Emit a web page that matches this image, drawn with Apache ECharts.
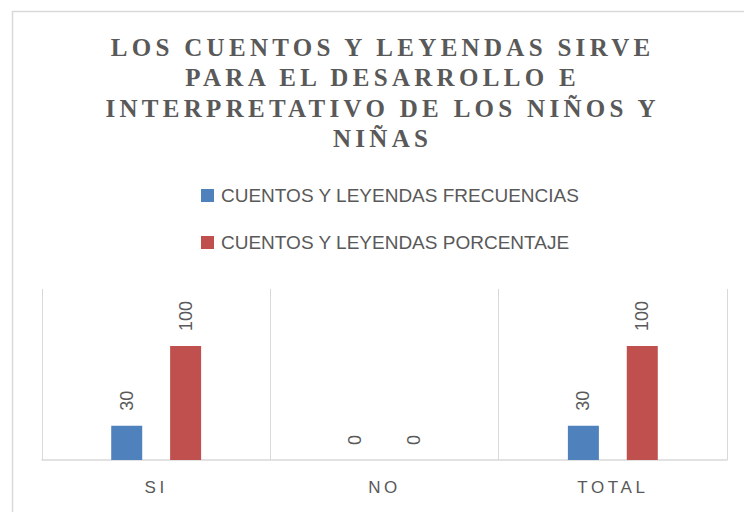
<!DOCTYPE html>
<html>
<head>
<meta charset="utf-8">
<script src="https://cdn.jsdelivr.net/npm/echarts@6/dist/echarts.min.js"></script>
<style>
  html, body { margin: 0; padding: 0; background: #fff; }
  #main { width: 744px; height: 512px; }
  /* spaced caps like the original: title and category labels */
  #main text[style*="Liberation Serif"] { letter-spacing: 4.3px; }
  #main text[style*="Arial"] { letter-spacing: 3.6px; }
</style>
</head>
<body>
<div id="main"></div>
<script>
  var titleText = 'LOS CUENTOS Y LEYENDAS SIRVE\nPARA EL DESARROLLO E\nINTERPRETATIVO DE LOS NIÑOS Y\nNIÑAS';

  var categories = ['SI', 'NO', 'TOTAL'];
  var seriesNames = ['CUENTOS Y LEYENDAS FRECUENCIAS', 'CUENTOS Y LEYENDAS PORCENTAJE'];
  var frecuencias = [30, 0, 30];
  var porcentaje = [100, 0, 100];

  var grayText = '#595959';
  var gridGray = '#d9d9d9';

  var chart = echarts.init(document.getElementById('main'), null, { renderer: 'svg' });

  var dataLabel = {
    show: true,
    position: 'top',
    distance: 15,
    rotate: 90,
    align: 'left',
    verticalAlign: 'middle',
    color: grayText,
    fontSize: 18,
    fontFamily: 'Liberation Sans'
  };

  var option = {
    animation: false,
    backgroundColor: '#fff',
    graphic: [{
      type: 'rect',
      shape: { x: 12.5, y: 11.5, width: 800, height: 600 },
      style: { fill: 'none', stroke: gridGray, lineWidth: 1.5 },
      silent: true
    }],
    title: {
      text: titleText,
      left: 382.6,
      top: 32,
      padding: 0,
      textAlign: 'center',
      textStyle: {
        fontFamily: 'Liberation Serif',
        fontWeight: 'bold',
        fontSize: 25,
        lineHeight: 30.5,
        color: grayText
      }
    },
    legend: {
      orient: 'vertical',
      left: 201,
      top: 185.5,
      padding: 0,
      itemWidth: 13,
      itemHeight: 13,
      itemGap: 27,
      icon: 'rect',
      data: seriesNames,
      textStyle: {
        fontFamily: 'Liberation Sans',
        fontSize: 19,
        lineHeight: 20,
        color: grayText,
        padding: [0, 0, 0, 2]
      }
    },
    grid: {
      left: 42,
      right: 17,
      top: 289,
      bottom: 52,
      containLabel: false
    },
    xAxis: {
      type: 'category',
      data: categories,
      boundaryGap: true,
      axisTick: { show: false },
      axisLine: { lineStyle: { color: gridGray, width: 1.5 } },
      splitLine: { show: true, lineStyle: { color: gridGray, width: 1 } },
      axisLabel: {
        color: grayText,
        fontSize: 17,
        fontFamily: 'Liberation Sans, Arial',
        margin: 19
      }
    },
    yAxis: {
      type: 'value',
      min: 0,
      max: 150,
      show: false
    },
    series: [{
      name: seriesNames[0],
      type: 'bar',
      data: frecuencias,
      barWidth: 31,
      barGap: '90%',
      itemStyle: { color: '#4f81bd' },
      label: dataLabel
    }, {
      name: seriesNames[1],
      type: 'bar',
      data: porcentaje,
      barWidth: 31,
      itemStyle: { color: '#c0504d' },
      label: dataLabel
    }]
  };

  chart.setOption(option);
</script>
</body>
</html>
